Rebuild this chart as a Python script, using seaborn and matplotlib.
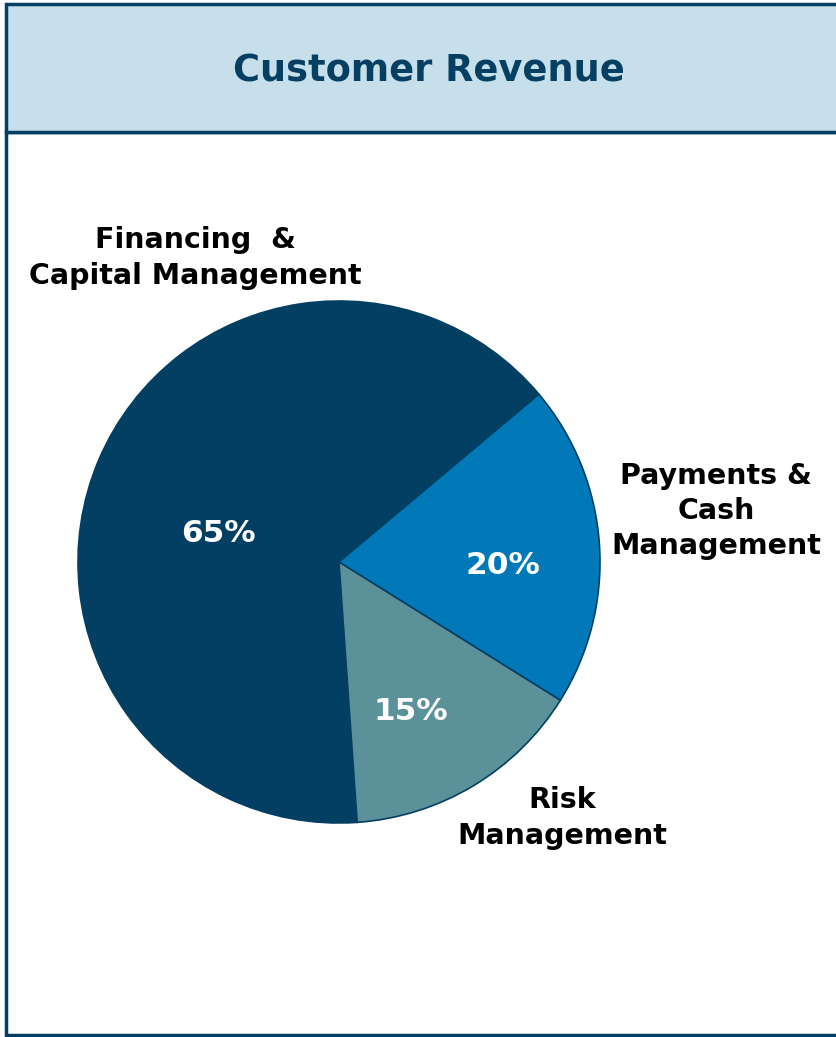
import matplotlib
matplotlib.use("Agg")
import matplotlib.pyplot as plt
import seaborn as sns
from matplotlib.patches import Rectangle

sns.set_theme(style="white")
plt.rcParams['font.family'] = ['DejaVu Sans']

title = "Customer Revenue"
categories = ["Financing  &\nCapital Management", "Payments &\nCash\nManagement", "Risk\nManagement"]
values = [65, 20, 15]
pct_labels = ["65%", "20%", "15%"]
colors = ["#033f63", "#0179b9", "#5b9198"]

W, H = 837, 1037
fig = plt.figure(figsize=(W / 100, H / 100), dpi=100)
fig.patch.set_facecolor("white")

def fx(px):
    return px / W

def fy(py):
    return 1 - py / H

# frame: header band and body
border = "#033f63"
fig.patches.append(Rectangle((fx(6), fy(1035)), fx(840) - fx(6), fy(132) - fy(1035),
                             transform=fig.transFigure, facecolor="white",
                             edgecolor=border, linewidth=2.5, zorder=-2))
fig.patches.append(Rectangle((fx(6), fy(132)), fx(840) - fx(6), fy(4) - fy(132),
                             transform=fig.transFigure, facecolor="#c6dfea",
                             edgecolor=border, linewidth=2.5, zorder=-1))
fig.text(fx(429), fy(71), title, ha="center", va="center", fontsize=26.5,
         fontweight="bold", color="#054063")

# pie axes: center (340, 562), radius 261 px
cx, cy, r = 339, 562, 261
ax = fig.add_axes([fx(cx - r), fy(cy + r), 2 * r / W, 2 * r / H])
ax.set_zorder(5)
ax.patch.set_alpha(0)
ax.pie(values, colors=colors, startangle=274, counterclock=False,
       wedgeprops=dict(edgecolor="#033f63", linewidth=1.2))
ax.set_xlim(-1, 1)
ax.set_ylim(-1, 1)
ax.set_aspect("equal")
ax.axis("off")

def dx(px):
    return (px - cx) / r

def dy(py):
    return (cy - py) / r

pct_pos = [(218, 533), (503, 566), (411, 711)]
for lab, (px, py) in zip(pct_labels, pct_pos):
    ax.text(dx(px), dy(py), lab, ha="center", va="center", fontsize=22.5,
            fontweight="bold", color="white")

cat_pos = [(195, 258), (716, 511), (562, 818)]
for lab, (px, py) in zip(categories, cat_pos):
    ax.text(dx(px), dy(py), lab, ha="center", va="center", fontsize=20.5,
            fontweight="bold", color="black", linespacing=1.32, clip_on=False)

fig.savefig("out.png", dpi=100, facecolor="white")
